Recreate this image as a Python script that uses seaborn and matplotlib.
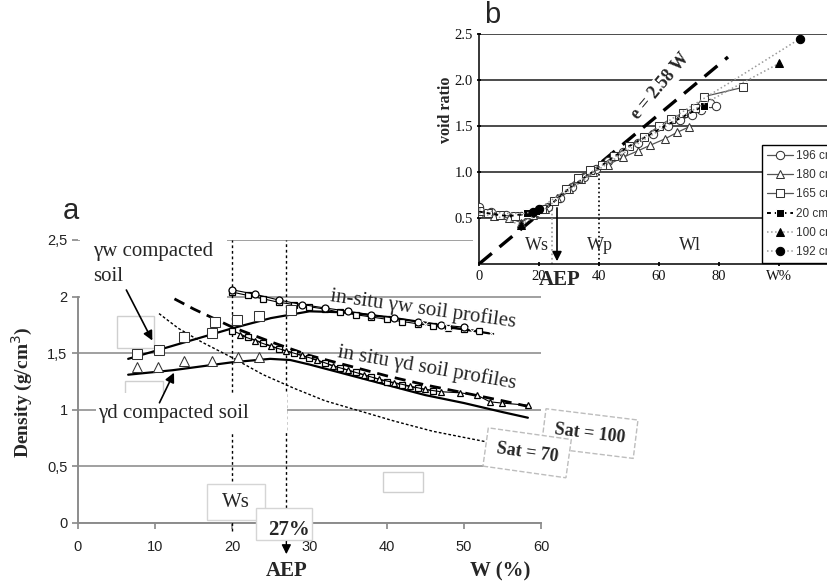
import matplotlib.pyplot as plt
from matplotlib.patches import Rectangle
import seaborn as sns

sns.set_theme(style="white")
plt.rcParams['font.family'] = ['DejaVu Sans']
SERIF = ['Liberation Serif', 'DejaVu Serif']
SANS = ['Liberation Sans', 'DejaVu Sans']

# ------------------ Panel a data (W %, density g/cm3) ------------------
comp_w_x = [7.6, 10.5, 13.7, 17.4, 17.7, 20.6, 23.4, 27.6]
comp_w_y = [1.49, 1.53, 1.64, 1.68, 1.78, 1.79, 1.83, 1.88]
comp_d_x = [7.6, 10.4, 13.7, 17.4, 20.7, 23.5]
comp_d_y = [1.38, 1.38, 1.43, 1.43, 1.47, 1.47]

yw_trend_x = [6.5, 10, 15, 20, 25, 30, 35, 40, 45, 50, 53.8]
yw_trend_y = [1.45, 1.52, 1.62, 1.72, 1.81, 1.87, 1.86, 1.82, 1.77, 1.71, 1.67]
yd_trend_x = [6.5, 12.3, 20, 24.9, 27.5, 30, 35, 40, 45, 50, 55, 58.3]
yd_trend_y = [1.31, 1.35, 1.42, 1.45, 1.44, 1.40, 1.31, 1.22, 1.13, 1.06, 0.98, 0.93]

situ_w1_x = [20, 22, 24, 26, 28, 30, 32, 34, 36, 38, 40, 42, 44, 46, 48, 50, 52]
situ_w1_y = [2.04, 2.01, 1.98, 1.95, 1.93, 1.91, 1.89, 1.86, 1.84, 1.82, 1.80, 1.78, 1.76, 1.74, 1.72, 1.71, 1.70]
situ_w2_x = [20, 23, 26, 29, 32, 35, 38, 41, 44, 47, 50]
situ_w2_y = [2.06, 2.02, 1.97, 1.93, 1.90, 1.87, 1.84, 1.81, 1.78, 1.75, 1.73]
situ_wx_x = [45, 48, 51, 53.5, 55, 58.4]
situ_wx_y = [1.76, 1.73, 1.70, 1.68, 1.66, 1.64]

situ_d1_x = [20, 22, 24, 26, 28, 30, 32, 34, 36, 38, 40, 42, 44, 46]
situ_d1_y = [1.70, 1.64, 1.59, 1.54, 1.50, 1.46, 1.41, 1.37, 1.33, 1.29, 1.25, 1.22, 1.19, 1.17]
situ_d2_x = [21, 23, 25, 27, 29, 31, 33, 35, 37, 39, 41, 43, 45, 47, 49.5, 51.7, 53.4, 54.9, 58.3]
situ_d2_y = [1.66, 1.61, 1.56, 1.52, 1.48, 1.44, 1.39, 1.35, 1.31, 1.27, 1.24, 1.21, 1.18, 1.16,
             1.15, 1.13, 1.07, 1.06, 1.04]

sat100_x = [12.5, 15, 20, 25, 30, 35, 40, 45, 50, 55, 59]
sat100_y = [1.98, 1.89, 1.73, 1.60, 1.48, 1.39, 1.30, 1.22, 1.15, 1.08, 1.02]
sat70_x = [10.5, 13, 16, 20, 24, 28, 32, 36.5, 41, 46, 52.7]
sat70_y = [1.85, 1.72, 1.60, 1.46, 1.31, 1.19, 1.08, 0.99, 0.90, 0.81, 0.72]

a_yticks = [0, 0.5, 1, 1.5, 2, 2.5]
a_ylabels = ['0', '0,5', '1', '1,5', '2', '2,5']
a_xticks = [0, 10, 20, 30, 40, 50, 60]

# ------------------ Panel b data (W %, void ratio) ------------------
b_w_196 = [0, 4, 9, 14, 19, 23, 27, 31, 35, 39, 43, 48, 53, 58, 63, 67, 71, 74, 77, 79]
b_e_196 = [0.62, 0.56, 0.53, 0.52, 0.56, 0.62, 0.72, 0.84, 0.95, 1.03, 1.12, 1.22, 1.32, 1.41,
           1.50, 1.56, 1.62, 1.67, 1.75, 1.72]
b_w_180 = [0, 5, 10, 14, 18, 22, 26, 30, 34, 38, 43, 48, 53, 57, 62, 66, 70]
b_e_180 = [0.55, 0.52, 0.50, 0.45, 0.53, 0.60, 0.72, 0.82, 0.92, 1.00, 1.08, 1.16, 1.23, 1.29,
           1.36, 1.43, 1.49]
b_w_165 = [0, 3, 7, 12, 17, 21, 25, 29, 33, 37, 41, 45, 50, 55, 60, 64, 68, 72, 75, 88]
b_e_165 = [0.58, 0.55, 0.53, 0.52, 0.55, 0.60, 0.68, 0.82, 0.93, 1.02, 1.08, 1.17, 1.28, 1.38,
           1.50, 1.58, 1.64, 1.70, 1.82, 1.92]
b_w_20 = [0, 5, 10, 16, 19, 23, 30, 40, 50, 62, 75]
b_e_20 = [0.57, 0.54, 0.52, 0.55, 0.58, 0.62, 0.82, 1.05, 1.28, 1.50, 1.72]
b_w_100 = [0, 8, 14, 22, 30, 40, 55, 70, 85, 100]
b_e_100 = [0.55, 0.50, 0.42, 0.60, 0.80, 1.03, 1.35, 1.65, 1.92, 2.18]
b_w_192 = [0, 8, 15, 18, 20, 28, 40, 55, 70, 85, 107]
b_e_192 = [0.60, 0.55, 0.55, 0.57, 0.60, 0.78, 1.05, 1.38, 1.70, 2.00, 2.45]
line_e_x = [0, 83]
line_e_y = [0, 2.25]

b_yticks = [0.5, 1.0, 1.5, 2.0, 2.5]
b_xticks = [0, 20, 40, 60, 80, 100]
b_xlabels = ['0', '20', '40', '60', '80', 'W%']

# ------------------ Figure ------------------
fig = plt.figure(figsize=(8.28, 5.81), dpi=100)
ax_a = fig.add_axes([78 / 828, 1 - 523 / 581, 463 / 828, 283 / 581], zorder=0)
ax_b = fig.add_axes([479 / 828, 1 - 264 / 581, 349 / 828, 230 / 581], zorder=2)

# white background behind inset b
fig.add_artist(Rectangle((473 / 828, 1 - 290 / 581), 1, 290 / 581, transform=fig.transFigure,
                         facecolor='white', edgecolor='none', zorder=1))

# ------------------ Panel a ------------------
ax = ax_a
ax.set_xlim(0, 60)
ax.set_ylim(0, 2.5)
ax.set_yticks(a_yticks, a_ylabels)
ax.set_xticks(a_xticks)
ax.yaxis.grid(True, color='#a0a0a0', lw=1.4, zorder=1)
ax.xaxis.grid(False)
for s in ['top', 'right']:
    ax.spines[s].set_visible(False)
for s in ['left', 'bottom']:
    ax.spines[s].set_color('#8c8c8c')
    ax.spines[s].set_linewidth(1.4)
ax.spines['left'].set_bounds(0, 2)
ax.tick_params(axis='both', length=4, color='#8c8c8c', labelsize=10.5, labelcolor='#222222',
               left=True, bottom=True, direction='out')
ax.tick_params(axis='x', pad=8)
for lab in ax.get_xticklabels() + ax.get_yticklabels():
    lab.set_family(SANS)
ax.set_xlabel('')
ax.set_ylabel('')

# white text-box covers
ax.add_patch(Rectangle((0.3, 1.98), 19.0, 0.55, facecolor='white', edgecolor='none', zorder=2,
                       clip_on=False))
ax.add_patch(Rectangle((2.3, 0.80), 24.8, 0.35, facecolor='white', edgecolor='none', zorder=2.7))
ax.add_patch(Rectangle((5.05, 1.55), 4.8, 0.28, facecolor='none', edgecolor='#cfcfcf', lw=1, zorder=2))
ax.add_patch(Rectangle((6.1, 1.13), 4.9, 0.12, facecolor='none', edgecolor='#cfcfcf', lw=1, zorder=2))
ax.add_patch(Rectangle((39.5, 0.27), 5.2, 0.18, facecolor='white', edgecolor='#cfcfcf', lw=1, zorder=2))

# Ws and AEP vertical dotted lines
ax.plot([20, 20], [-0.07, 2.5], ls=(0, (2, 2)), color='black', lw=1, zorder=2.6, clip_on=False)
ax.plot([27, 27], [-0.16, 2.5], ls=(0, (2, 2)), color='black', lw=1, zorder=2.6, clip_on=False)
ax.annotate('', xy=(27, -0.30), xytext=(27, -0.14), xycoords='data',
            arrowprops=dict(arrowstyle='-|>', color='black', lw=1, mutation_scale=14),
            annotation_clip=False, zorder=5)

# saturation curves
sns.lineplot(x=sat70_x, y=sat70_y, ax=ax, color='black', lw=1, sort=False, estimator=None,
             linestyle=(0, (2, 1.5)), zorder=3)
sns.lineplot(x=sat100_x, y=sat100_y, ax=ax, color='black', lw=2, sort=False, estimator=None,
             linestyle=(0, (4, 2.5)), zorder=3)

# trend lines
sns.lineplot(x=yw_trend_x, y=yw_trend_y, ax=ax, color='black', lw=1.6, sort=False, estimator=None,
             zorder=3)
sns.lineplot(x=yd_trend_x, y=yd_trend_y, ax=ax, color='black', lw=1.6, sort=False, estimator=None,
             zorder=3)

# in-situ profiles
mk = dict(sort=False, estimator=None, color='black', lw=0.8, markersize=5,
          markerfacecolor='white', markeredgecolor='black', markeredgewidth=0.9, zorder=4)
sns.lineplot(x=situ_w1_x, y=situ_w1_y, ax=ax, marker='s', **mk)
sns.lineplot(x=situ_w2_x, y=situ_w2_y, ax=ax, marker='o', **mk)
sns.lineplot(x=situ_d1_x, y=situ_d1_y, ax=ax, marker='s', **mk)
sns.lineplot(x=situ_d2_x, y=situ_d2_y, ax=ax, marker='^', **mk)
sns.lineplot(x=situ_wx_x, y=situ_wx_y, ax=ax, marker='x', linestyle='', color='#333333',
             markersize=6, sort=False, estimator=None, zorder=4)

# compacted soil points
sns.lineplot(x=comp_w_x, y=comp_w_y, ax=ax, marker='s', linestyle='', color='black',
             markersize=6.5, markerfacecolor='white', markeredgecolor='#333333', sort=False,
             estimator=None, zorder=4)
sns.lineplot(x=comp_d_x, y=comp_d_y, ax=ax, marker='^', linestyle='', color='black',
             markersize=6.5, markerfacecolor='white', markeredgecolor='#333333', sort=False,
             estimator=None, zorder=4)

# labels panel a
ax.text(1.9, 2.48, 'γw compacted\nsoil', family=SERIF, fontsize=15, ha='left', va='top',
        linespacing=1.4, zorder=6)
ax.annotate('', xy=(9.8, 1.59), xytext=(6.1, 2.08),
            arrowprops=dict(arrowstyle='-|>', color='black', lw=1.2, mutation_scale=14), zorder=6)
ax.text(2.6, 0.97, 'γd compacted soil', family=SERIF, fontsize=15, ha='left', va='center',
        zorder=6)
ax.annotate('', xy=(12.6, 1.35), xytext=(10.4, 1.04),
            arrowprops=dict(arrowstyle='-|>', color='black', lw=1.2, mutation_scale=14), zorder=6)
ax.text(44.7, 1.89, 'in-situ γw soil profiles', family=SERIF, fontsize=15, ha='center',
        va='center', rotation=-8, rotation_mode='anchor', zorder=6)
ax.text(45.2, 1.37, 'in situ γd soil profiles', family=SERIF, fontsize=15, ha='center',
        va='center', rotation=-10, rotation_mode='anchor', zorder=6)
ax.text(66.3, 0.79, 'Sat = 100', family=SERIF, fontsize=13, fontweight='bold', ha='center',
        va='center', rotation=-7, rotation_mode='anchor', zorder=6, clip_on=False,
        bbox=dict(boxstyle='square,pad=0.6', facecolor='white', edgecolor='#bdbdbd', ls='--', lw=1))
ax.text(58.2, 0.62, 'Sat = 70', family=SERIF, fontsize=13, fontweight='bold', ha='center',
        va='center', rotation=-8, rotation_mode='anchor', zorder=6, clip_on=False,
        bbox=dict(boxstyle='square,pad=0.6', facecolor='white', edgecolor='#bdbdbd', ls='--', lw=1))

ax.add_patch(Rectangle((16.7, 0.026), 7.5, 0.318, facecolor='white', edgecolor='#d5d5d5', lw=1,
                       zorder=3, clip_on=False))
ax.add_patch(Rectangle((23.1, -0.15), 7.2, 0.28, facecolor='white', edgecolor='#d5d5d5', lw=1,
                       zorder=3.1, clip_on=False))
ax.text(20.5, 0.18, 'Ws', family=SERIF, fontsize=15, ha='center', va='center', zorder=6)
ax.text(27.3, -0.06, '27%', family=SERIF, fontsize=15, fontweight='bold', ha='center',
        va='center', zorder=6, clip_on=False)
ax.text(27, -0.42, 'AEP', family=SERIF, fontsize=15, fontweight='bold', ha='center',
        va='center', clip_on=False)
ax.text(54.7, -0.43, 'W (%)', family=SERIF, fontsize=15, fontweight='bold', ha='center',
        va='center', clip_on=False)

fig.text(22 / 828, 1 - 392 / 581, 'Density (g/cm$^3$)', family=SERIF, fontsize=14,
         fontweight='bold', rotation=90, ha='center', va='center')
fig.text(71 / 828, 1 - 211 / 581, 'a', family=SANS, fontsize=21, ha='center', va='center')

# ------------------ Panel b ------------------
ax = ax_b
ax.set_xlim(0, 349 / 3)
ax.set_ylim(0, 2.5)
ax.set_yticks(b_yticks, [f'{v:.1f}' for v in b_yticks])
ax.set_xticks(b_xticks, b_xlabels)
ax.yaxis.grid(True, color='#1a1a1a', lw=1.1, zorder=0)
ax.xaxis.grid(False)
for s in ['top', 'right']:
    ax.spines[s].set_visible(False)
for s in ['left', 'bottom']:
    ax.spines[s].set_color('black')
    ax.spines[s].set_linewidth(1.1)
ax.tick_params(axis='both', length=3, color='black', labelsize=10.5, labelcolor='#111111',
               left=True, bottom=True, direction='inout', pad=3)
for lab in ax.get_xticklabels() + ax.get_yticklabels():
    lab.set_family(SERIF)

ax.plot([24.3, 24.3], [0, 0.62], ls=':', color='#999999', lw=1.2, zorder=2)
ax.plot([40, 40], [0, 1.0], ls=':', color='black', lw=1.2, zorder=2)
ax.annotate('', xy=(26, 0), xytext=(26, 0.64),
            arrowprops=dict(arrowstyle='-|>', color='black', lw=1.2, mutation_scale=14), zorder=6)

sns.lineplot(x=line_e_x, y=line_e_y, ax=ax, color='black', lw=2.4, linestyle=(0, (5, 3)),
             sort=False, estimator=None, zorder=3)

bk = dict(sort=False, estimator=None, markersize=6, zorder=4)
sns.lineplot(x=b_w_196, y=b_e_196, ax=ax, color='#555555', lw=0.9, marker='o',
             markerfacecolor='white', markeredgecolor='#333333', label='196 cm', **bk)
sns.lineplot(x=b_w_180, y=b_e_180, ax=ax, color='#555555', lw=0.9, marker='^',
             markerfacecolor='white', markeredgecolor='#333333', label='180 cm', **bk)
sns.lineplot(x=b_w_165, y=b_e_165, ax=ax, color='#555555', lw=0.9, marker='s',
             markerfacecolor='white', markeredgecolor='#333333', label='165 cm', **bk)
sns.lineplot(x=b_w_20, y=b_e_20, ax=ax, color='black', lw=1.4, linestyle=(0, (2, 2)),
             marker='s', markevery=[3, 4, 10], label='20 cm', **bk)
sns.lineplot(x=b_w_100, y=b_e_100, ax=ax, color='#9a9a9a', lw=1.1, linestyle=':', marker='^',
             markerfacecolor='black', markeredgecolor='black', markevery=[2, 9], label='100 cm', **bk)
sns.lineplot(x=b_w_192, y=b_e_192, ax=ax, color='#9a9a9a', lw=1.1, linestyle=':', marker='o',
             markerfacecolor='black', markeredgecolor='black', markevery=[3, 4, 10], label='192 cm',
             **bk)
ax.set_xlabel('')
ax.set_ylabel('')

leg = ax.legend(loc='upper left', bbox_to_anchor=(762 / 828, 1 - 145 / 581),
                bbox_transform=fig.transFigure, fontsize=8.5, frameon=True, fancybox=False,
                edgecolor='black', framealpha=1, handlelength=2.2, labelspacing=0.62,
                borderpad=0.4, handletextpad=0.3, borderaxespad=0)
leg.get_frame().set_linewidth(1)
for t in leg.get_texts():
    t.set_family(SANS)
    t.set_color('#333333')

ax.text(60.5, 1.93, 'e = 2.58 W', family=SERIF, fontsize=13, fontweight='bold', ha='center',
        va='center', rotation=50, rotation_mode='anchor', zorder=3.5,
        bbox=dict(boxstyle='square,pad=0.1', facecolor='white', edgecolor='none'))
ax.text(19.3, 0.2, 'Ws', family=SERIF, fontsize=13, ha='center', va='center', zorder=5)
ax.text(40.3, 0.2, 'Wp', family=SERIF, fontsize=13, ha='center', va='center', zorder=5)
ax.text(70.3, 0.2, 'Wl', family=SERIF, fontsize=13, ha='center', va='center', zorder=5)
ax.text(27, -0.17, 'AEP', family=SERIF, fontsize=15, fontweight='bold', ha='center', va='center',
        clip_on=False)

fig.text(446 / 828, 1 - 110 / 581, 'void ratio', family=SERIF, fontsize=11.5, fontweight='bold',
         rotation=90, ha='center', va='center')
fig.text(492 / 828, 1 - 15 / 581, 'b', family=SANS, fontsize=21, ha='center', va='center')

fig.savefig('out.png', dpi=100)
